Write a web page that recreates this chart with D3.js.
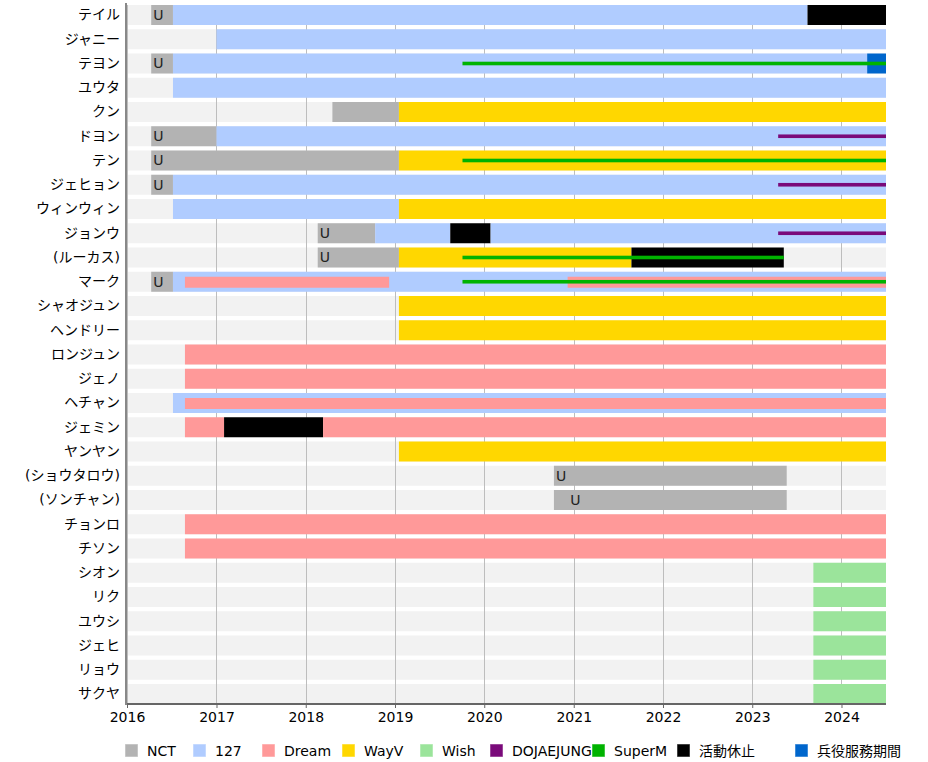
<!DOCTYPE html>
<html><head><meta charset="utf-8">
<script src="https://cdn.jsdelivr.net/npm/d3@7"></script>
<style>
body{margin:0;background:#fff;}
text{font-family:"DejaVu Sans","Noto Sans CJK JP",sans-serif;}
</style></head>
<body><svg id="chart" width="928" height="762"></svg>
<script>
// ---------- DATA ----------
const members = ["テイル","ジャニー","テヨン","ユウタ","クン","ドヨン","テン","ジェヒョン","ウィンウィン","ジョンウ","(ルーカス)","マーク","シャオジュン","ヘンドリー","ロンジュン","ジェノ","ヘチャン","ジェミン","ヤンヤン","(ショウタロウ)","(ソンチャン)","チョンロ","チソン","シオン","リク","ユウシ","ジェヒ","リョウ","サクヤ"];
const groups = ["NCT","127","Dream","WayV","Wish","DOJAEJUNG","SuperM","活動休止","兵役服務期間"];
const yearTicks = ["2016","2017","2018","2019","2020","2021","2022","2023","2024"];
const timelineStart = "2016-01-01";
const timelineEnd = "2024-07-01";
const END = timelineEnd;

// full-height bars: [member, group, start, end]
const bars = [
  ["テイル","NCT","2016-04-09","2016-07-07"],
  ["テイル","127","2016-07-07","2023-08-15"],
  ["テイル","活動休止","2023-08-15",END],
  ["ジャニー","127","2017-01-01",END],
  ["テヨン","NCT","2016-04-09","2016-07-07"],
  ["テヨン","127","2016-07-07","2024-04-15"],
  ["テヨン","兵役服務期間","2024-04-15",END],
  ["ユウタ","127","2016-07-07",END],
  ["クン","NCT","2018-04-20","2019-01-17"],
  ["クン","WayV","2019-01-17",END],
  ["ドヨン","NCT","2016-04-09","2017-01-01"],
  ["ドヨン","127","2017-01-01",END],
  ["テン","NCT","2016-04-09","2019-01-17"],
  ["テン","WayV","2019-01-17",END],
  ["ジェヒョン","NCT","2016-04-09","2016-07-07"],
  ["ジェヒョン","127","2016-07-07",END],
  ["ウィンウィン","127","2016-07-07","2019-01-17"],
  ["ウィンウィン","WayV","2019-01-17",END],
  ["ジョンウ","NCT","2018-02-19","2018-10-12"],
  ["ジョンウ","127","2018-10-12","2019-08-15"],
  ["ジョンウ","活動休止","2019-08-15","2020-01-27"],
  ["ジョンウ","127","2020-01-27",END],
  ["(ルーカス)","NCT","2018-02-19","2019-01-17"],
  ["(ルーカス)","WayV","2019-01-17","2021-08-25"],
  ["(ルーカス)","活動休止","2021-08-25","2023-05-10"],
  ["マーク","NCT","2016-04-09","2016-07-07"],
  ["マーク","127","2016-07-07",END],
  ["シャオジュン","WayV","2019-01-17",END],
  ["ヘンドリー","WayV","2019-01-17",END],
  ["ロンジュン","Dream","2016-08-25",END],
  ["ジェノ","Dream","2016-08-25",END],
  ["ヘチャン","127","2016-07-07",END],
  ["ジェミン","Dream","2016-08-25","2017-02-01"],
  ["ジェミン","活動休止","2017-02-01","2018-03-13"],
  ["ジェミン","Dream","2018-03-13",END],
  ["ヤンヤン","WayV","2019-01-17",END],
  ["(ショウタロウ)","NCT","2020-10-12","2023-05-22"],
  ["(ソンチャン)","NCT","2020-10-12","2023-05-22"],
  ["チョンロ","Dream","2016-08-25",END],
  ["チソン","Dream","2016-08-25",END],
  ["シオン","Wish","2023-09-08",END],
  ["リク","Wish","2023-09-08",END],
  ["ユウシ","Wish","2023-09-08",END],
  ["ジェヒ","Wish","2023-09-08",END],
  ["リョウ","Wish","2023-09-08",END],
  ["サクヤ","Wish","2023-09-08",END]
];
// overlay (narrower) bars: [member, group, start, end]
const overlayBars = [
  ["マーク","Dream","2016-08-25","2018-12-08"],
  ["マーク","Dream","2020-12-07",END],
  ["ヘチャン","Dream","2016-08-25",END]
];
// thin lines: [member, group, start, end]
const lineBars = [
  ["テヨン","SuperM","2019-10-04",END],
  ["テン","SuperM","2019-10-04",END],
  ["(ルーカス)","SuperM","2019-10-04","2023-05-10"],
  ["マーク","SuperM","2019-10-04",END],
  ["ドヨン","DOJAEJUNG","2023-04-17",END],
  ["ジェヒョン","DOJAEJUNG","2023-04-17",END],
  ["ジョンウ","DOJAEJUNG","2023-04-17",END]
];
// "U" unit labels: [member, label, date]
const unitLabels = [
  ["テイル","U","2016-04-09"],
  ["テヨン","U","2016-04-09"],
  ["ドヨン","U","2016-04-09"],
  ["テン","U","2016-04-09"],
  ["ジェヒョン","U","2016-04-09"],
  ["ジョンウ","U","2018-02-19"],
  ["(ルーカス)","U","2018-02-19"],
  ["マーク","U","2016-04-09"],
  ["(ショウタロウ)","U","2020-10-12"],
  ["(ソンチャン)","U","2020-12-10"]
];

// ---------- STYLE ----------
const groupColors = {
  "NCT":"#b3b3b3","127":"#b0ccff","Dream":"#ff9999","WayV":"#ffd700","Wish":"#9be49b",
  "DOJAEJUNG":"#7a0a7a","SuperM":"#00b300","活動休止":"#000000","兵役服務期間":"#0066cc"
};
const legendX = [125,193,262,342,420,490,592,677,795];

// ---------- DRAW ----------
const svg = d3.select("#chart");
const parse = d3.timeParse("%Y-%m-%d");
const x = d3.scaleTime().domain([parse(timelineStart), parse(timelineEnd)]).range([127, 886]);
const y = d3.scaleBand().domain(members).range([5, 704]).paddingInner(0.1753).paddingOuter(0);
const bw = y.bandwidth();

// row backgrounds
svg.append("g").selectAll("rect").data(members).join("rect")
  .attr("x", x.range()[0]).attr("width", x.range()[1]-x.range()[0])
  .attr("y", d=>y(d)).attr("height", bw).attr("fill", "#f2f2f2");

// grid lines
const tickDates = yearTicks.map(t=>parse(t+"-01-01"));
svg.append("g").selectAll("line").data(tickDates).join("line")
  .attr("x1", d=>Math.round(x(d))+0.5).attr("x2", d=>Math.round(x(d))+0.5)
  .attr("y1", 5).attr("y2", 704).attr("stroke", "#bdbdbd").attr("stroke-width", 1);

// bars
svg.append("g").selectAll("rect").data(bars).join("rect")
  .attr("x", d=>x(parse(d[2]))).attr("width", d=>x(parse(d[3]))-x(parse(d[2])))
  .attr("y", d=>y(d[0])).attr("height", bw).attr("fill", d=>groupColors[d[1]]);

// overlay bars
svg.append("g").selectAll("rect").data(overlayBars).join("rect")
  .attr("x", d=>x(parse(d[2]))).attr("width", d=>x(parse(d[3]))-x(parse(d[2])))
  .attr("y", d=>y(d[0])+5).attr("height", bw-9).attr("fill", d=>groupColors[d[1]]);

// lines
svg.append("g").selectAll("rect").data(lineBars).join("rect")
  .attr("x", d=>x(parse(d[2]))).attr("width", d=>x(parse(d[3]))-x(parse(d[2])))
  .attr("y", d=>y(d[0])+bw/2-1.8).attr("height", 3.6).attr("fill", d=>groupColors[d[1]]);

// unit labels
svg.append("g").selectAll("text").data(unitLabels).join("text")
  .attr("x", d=>x(parse(d[2]))+2).attr("y", d=>y(d[0])+bw/2+5)
  .attr("font-size", 14).attr("fill", "#222").text(d=>d[1]);

// axes
const xAxis = d3.axisBottom(x).tickValues(tickDates).tickFormat(d3.timeFormat("%Y")).tickSize(4);
const ax = svg.append("g").attr("transform","translate(0,704)").call(xAxis);
ax.select(".domain").attr("stroke","#666").attr("stroke-width",2).attr("d","M126,0H886");
ax.selectAll(".tick line").attr("stroke","#666");
ax.selectAll(".tick text").attr("font-size",14).attr("fill","#000").attr("dy","0.8em")
  .attr("font-family","DejaVu Sans");

const yAxis = d3.axisLeft(y).tickSize(0).tickPadding(6);
const ay = svg.append("g").attr("transform","translate(126,0)").call(yAxis);
ay.select(".domain").attr("stroke","#888").attr("stroke-width",2).attr("d","M0,3V705");
ay.selectAll(".tick text").attr("font-size",14).attr("fill","#000")
  .attr("font-family","'DejaVu Sans','Noto Sans CJK JP',sans-serif");

// legend
const lg = svg.append("g").selectAll("g").data(groups).join("g")
  .attr("transform",(d,i)=>`translate(${legendX[i]},744)`);
lg.append("rect").attr("width",13).attr("height",13).attr("fill",d=>groupColors[d])
  .attr("stroke","#fff").attr("stroke-opacity",0.5);
lg.append("text").attr("x",22).attr("y",12).attr("font-size",14).attr("fill","#000").text(d=>d);
</script></body></html>
